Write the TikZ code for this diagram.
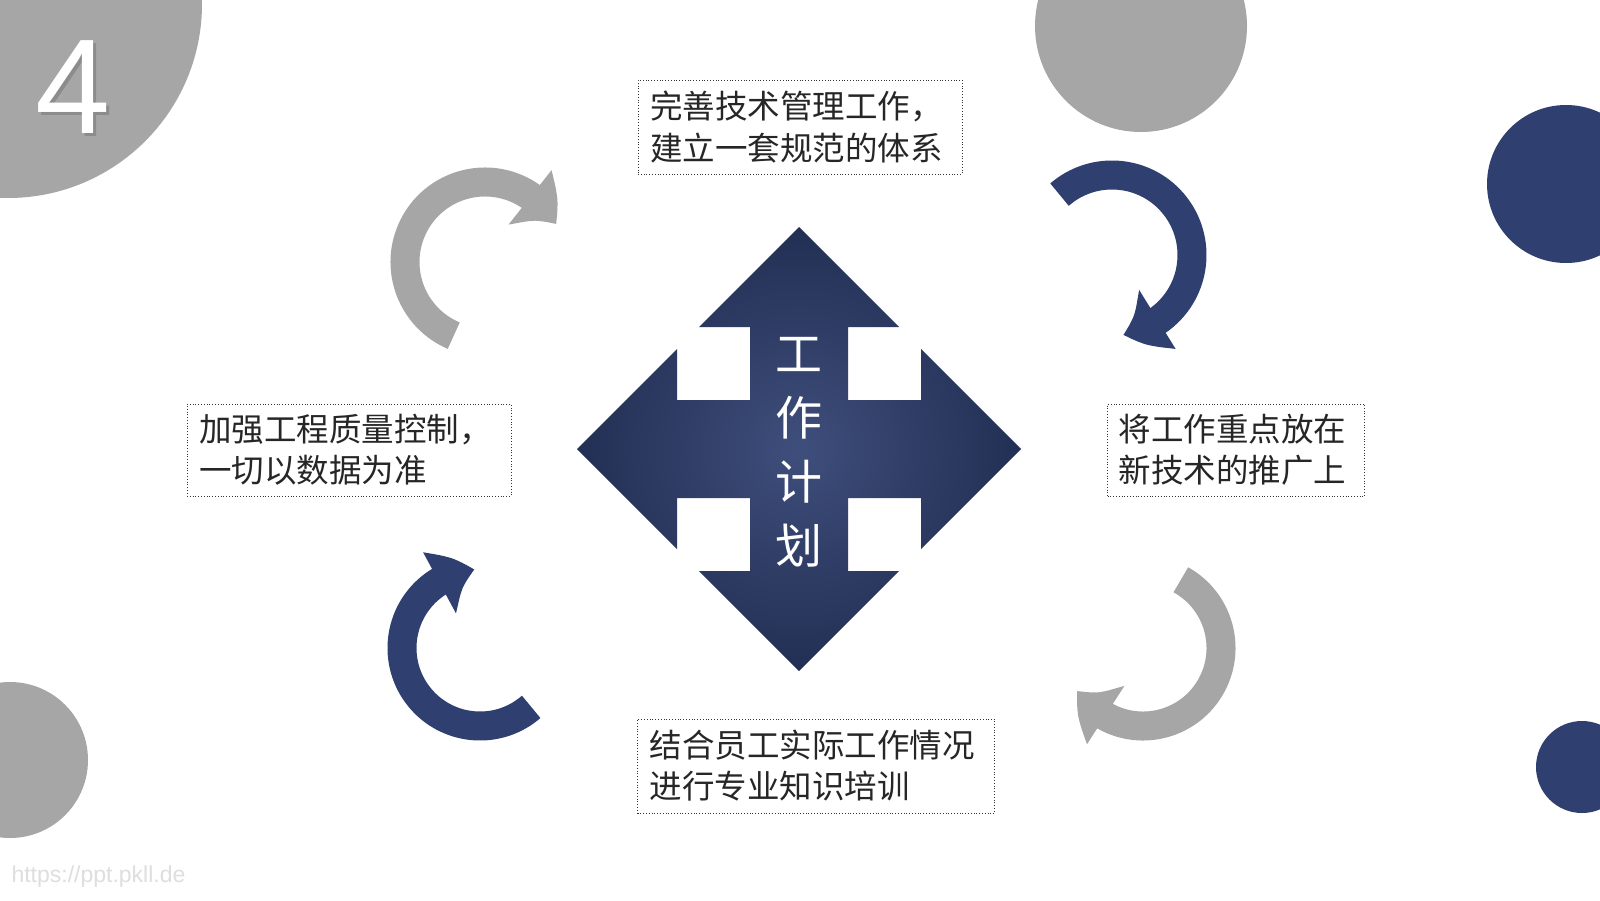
\documentclass[tikz,border=0pt]{standalone}
\usepackage{fontspec}
\setmainfont{Liberation Sans}
\newfontfamily\cjk{Noto Sans CJK SC}
\usetikzlibrary{arrows.meta,bending}
\definecolor{navy}{HTML}{2E3F70}
\definecolor{greyc}{HTML}{A6A6A6}
\begin{document}
\begin{tikzpicture}[x=1pt,y=-1pt,
  txtbox/.style={draw=black!80,dotted,thick,inner sep=0pt,align=left,font=\cjk\fontsize{32.5}{41}\selectfont,text=black!85},
  band/.style={line width=29pt,-{Triangle[width=66pt,length=38pt,bend]}}]
\useasboundingbox (0,0) rectangle (1600,900);
\clip (0,0) rectangle (1600,900);
\fill[white] (0,0) rectangle (1600,900);
% decorative circles
\fill[greyc] (8,4) circle[radius=194];
\fill[greyc] (1141,26) circle[radius=106];
\fill[navy] (1566,184) circle[radius=79];
\fill[greyc] (10,760) circle[radius=78];
\fill[navy] (1582,767) circle[radius=46];
\node[font=\fontsize{135}{135}\selectfont,text=black!45] (fourS) at (76,90) {4};
\node[font=\fontsize{135}{135}\selectfont,text=white] (four) at (73,87) {4};
\node[font=\fontsize{23}{23}\selectfont,text=black!13,anchor=west] (wm) at (8,877) {https://ppt.pkll.de};
% central four-way arrow
\shade[inner color=navy!92!white, outer color=navy!75!black]
  (799,227) -- (899,327) -- (848,327) -- (848,400) -- (921,400) -- (921,349) -- (1021,449)
  -- (921,549) -- (921,498) -- (848,498) -- (848,571) -- (899,571) -- (799,671)
  -- (699,571) -- (750,571) -- (750,498) -- (677,498) -- (677,549) -- (577,449)
  -- (677,349) -- (677,400) -- (750,400) -- (750,327) -- (699,327) -- cycle;
\node[text=white,font=\cjk\fontsize{47}{64}\selectfont,align=center] (title) at (799,452) {工\\作\\计\\划};
% text boxes
\node[txtbox,minimum width=324,minimum height=94,text width=300] (t1) at (800,127) {完善技术管理工作，\\建立一套规范的体系};
\node[txtbox,minimum width=324,minimum height=92,text width=300] (t2) at (349,450) {加强工程质量控制，\\一切以数据为准};
\node[txtbox,minimum width=257,minimum height=92,text width=235] (t3) at (1236,450) {将工作重点放在\\新技术的推广上};
\node[txtbox,minimum width=357,minimum height=94,text width=333] (t4) at (816,766) {结合员工实际工作情况\\进行专业知识培训};
% curved arrows
\coordinate (c1) at (485,262);
\coordinate (c2) at (1112,255);
\coordinate (c3) at (1143,648);
\coordinate (c4) at (480,648);
\draw[band,greyc] ([shift={(113:80)}]c1) arc[start angle=113,end angle=332,radius=80];
\draw[band,navy] ([shift={(-131:80)}]c2) arc[start angle=-131,end angle=82,radius=80];
\draw[band,greyc] ([shift={(-61:78)}]c3) arc[start angle=-61,end angle=147,radius=78];
\draw[band,navy] ([shift={(49:78)}]c4) arc[start angle=49,end angle=266,radius=78];
\end{tikzpicture}
\end{document}
